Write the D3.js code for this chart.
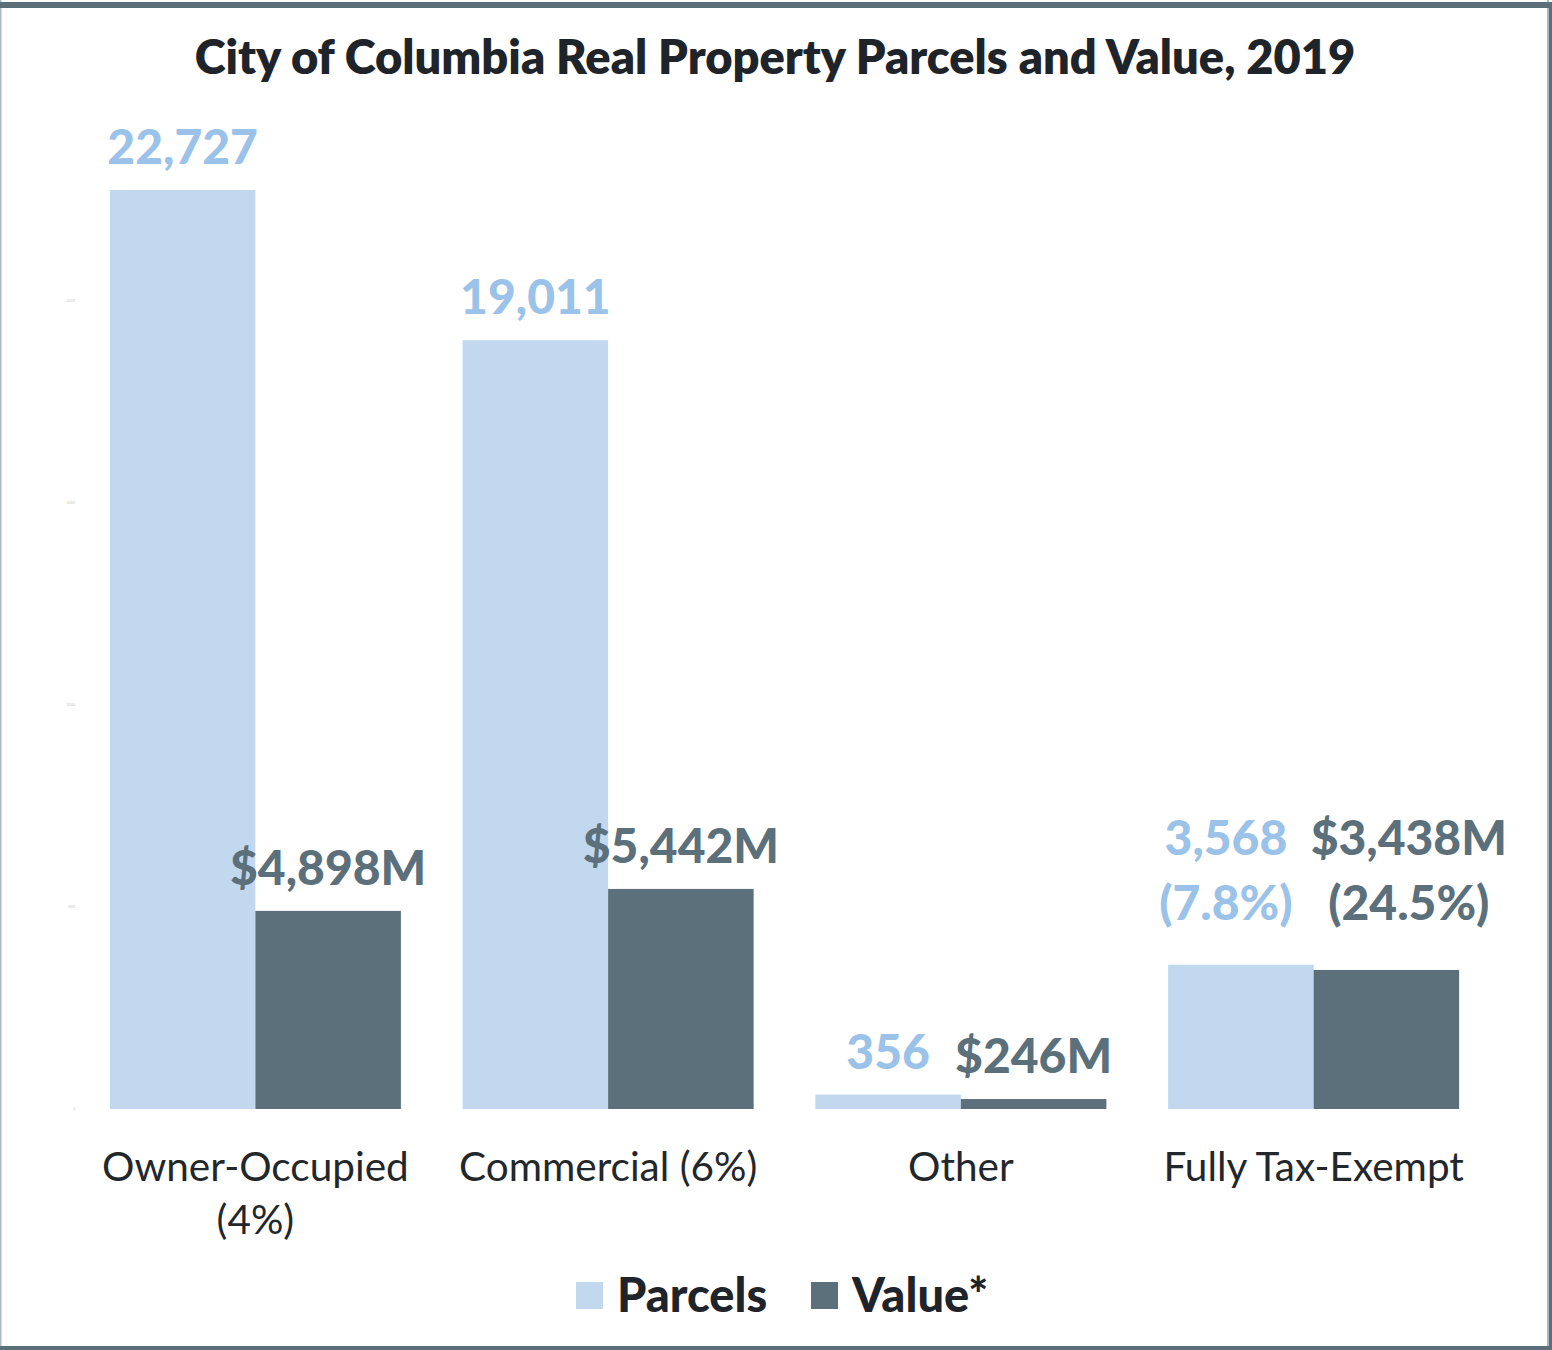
<!DOCTYPE html>
<html>
<head>
<meta charset="utf-8">
<script src="https://cdn.jsdelivr.net/npm/d3@7"></script>
<style>
  body { margin: 0; background: #fff; }
  svg { display: block; font-family: Lato, "Open Sans", sans-serif; }
</style>
</head>
<body>
<svg id="chart" width="1552" height="1350"></svg>
<script>
// data
var categories = ["Owner-Occupied (4%)", "Commercial (6%)", "Other", "Fully Tax-Exempt"]
var catLines = [["Owner-Occupied", "(4%)"], ["Commercial (6%)"], ["Other"], ["Fully Tax-Exempt"]]
var parcels = [22727, 19011, 356, 3568]
var values = [4898, 5442, 246, 3438]
var parcelLabels = [["22,727"], ["19,011"], ["356"], ["3,568", "(7.8%)"]]
var valueLabels = [["$4,898M"], ["$5,442M"], ["$246M"], ["$3,438M", "(24.5%)"]]
var keys = ["Parcels", "Value*"]
var yTicks = [0, 5000, 10000, 15000, 20000, 25000]

var svg = d3.select("#chart"),
    W = 1552, H = 1350,
    margin = { top: 98, left: 79, bottom: 241, right: 62 };

var colors = { Parcels: "#c1d8ef", "Value*": "#5b707b" }
var labelColors = { Parcels: "#9bc2e8", "Value*": "#5b707b" }

// frame
svg.append("rect").attr("x", 0).attr("y", 0).attr("width", 1.5).attr("height", H).attr("fill", "#a9b9c2")
svg.append("rect").attr("x", 1547).attr("y", 0).attr("width", 2).attr("height", H).attr("fill", "#a9b9c2")
svg.append("rect").attr("x", 0).attr("y", 2).attr("width", W).attr("height", 6).attr("fill", "#5b6f7a")
svg.append("rect").attr("x", 1549).attr("y", 2).attr("width", 3).attr("height", H).attr("fill", "#5b6f7a")
svg.append("rect").attr("x", 0).attr("y", 1346).attr("width", W).attr("height", 4).attr("fill", "#5b6f7a")

svg.append("text")
    .attr("x", 775).attr("y", 74)
    .attr("text-anchor", "middle")
    .attr("font-size", 47).attr("font-weight", 800)
    .attr("fill", "#1f242a")
    .text("City of Columbia Real Property Parcels and Value, 2019")

var x = d3.scaleBand()
    .domain(categories)
    .range([margin.left, W - margin.right])
    .paddingInner(0.175)
    .paddingOuter(0.0875)

var x1 = d3.scaleBand().domain(keys).range([0, x.bandwidth()])

var y = d3.scaleLinear()
    .domain([0, 25000])
    .range([H - margin.bottom, margin.top])

// faint y axis (labels are nearly invisible in the original)
var yAxis = svg.append("g")
    .attr("transform", `translate(${margin.left - 4},0)`)
    .call(d3.axisLeft(y).tickValues(yTicks.slice(0, 5)).tickSize(0).tickPadding(0).tickFormat(d3.format("d")))
yAxis.select(".domain").remove()
yAxis.selectAll("text").attr("font-size", 3).attr("fill", "#c8c8c8").attr("font-family", "Lato")

var rows = categories.map((c, i) => ({ cat: c, i: i, Parcels: parcels[i], "Value*": values[i] }))

var groups = svg.selectAll("g.group")
    .data(rows)
    .enter().append("g")
    .attr("class", "group")
    .attr("transform", d => `translate(${x(d.cat)},0)`)

groups.selectAll("rect")
    .data(d => keys.map(k => ({ key: k, value: d[k] })))
    .enter().append("rect")
    .attr("x", d => x1(d.key))
    .attr("y", d => y(d.value))
    .attr("width", x1.bandwidth())
    .attr("height", d => y(0) - y(d.value))
    .attr("fill", d => colors[d.key])

// value labels above bars
var lineH = 65
groups.each(function (d, i) {
    var g = d3.select(this)
    var sets = [{ key: "Parcels", lines: parcelLabels[i] }, { key: "Value*", lines: valueLabels[i] }]
    var multi = sets.some(s => s.lines.length > 1)
    var top = Math.min(y(d.Parcels), y(d["Value*"]))
    var texts = sets.map(s => {
        var base = multi ? top - 45 : y(d[s.key]) - 26
        var t = g.append("text")
            .attr("text-anchor", "middle")
            .attr("font-size", 48).attr("font-weight", 900)
            .attr("fill", labelColors[s.key])
            .attr("x", x1(s.key) + x1.bandwidth() / 2)
        s.lines.forEach((l, j) => {
            t.append("tspan")
                .attr("x", x1(s.key) + x1.bandwidth() / 2)
                .attr("y", base - (s.lines.length - 1 - j) * lineH)
                .text(l)
        })
        return t
    })
    // push apart labels that collide (same height only)
    var b0 = texts[0].node().getBBox(), b1 = texts[1].node().getBBox()
    var vOverlap = b0.y < b1.y + b1.height && b1.y < b0.y + b0.height
    var overlap = (b0.x + b0.width + 18) - b1.x
    if (vOverlap && overlap > 0) {
        texts[0].attr("transform", `translate(${-overlap * 0.4},0)`)
        texts[1].attr("transform", `translate(${overlap * 0.6},0)`)
    }
})

// category labels
groups.each(function (d, i) {
    var t = d3.select(this).append("text")
        .attr("text-anchor", "middle")
        .attr("font-size", 40.5)
        .attr("fill", "#22272c")
    catLines[i].forEach((l, j) => {
        t.append("tspan")
            .attr("x", x.bandwidth() / 2)
            .attr("y", 1181 + j * 53)
            .text(l)
    })
})

// legend
var legend = svg.append("g").attr("transform", "translate(576,1282)")
keys.forEach((k, i) => {
    var item = legend.append("g").attr("transform", `translate(${i === 0 ? 0 : 235},0)`)
    item.append("rect").attr("width", 27).attr("height", 27).attr("fill", colors[k])
    item.append("text")
        .attr("x", 41).attr("y", 30)
        .attr("font-size", 47).attr("font-weight", 900)
        .attr("fill", "#1f242a")
        .text(k)
})
</script>
</body>
</html>
